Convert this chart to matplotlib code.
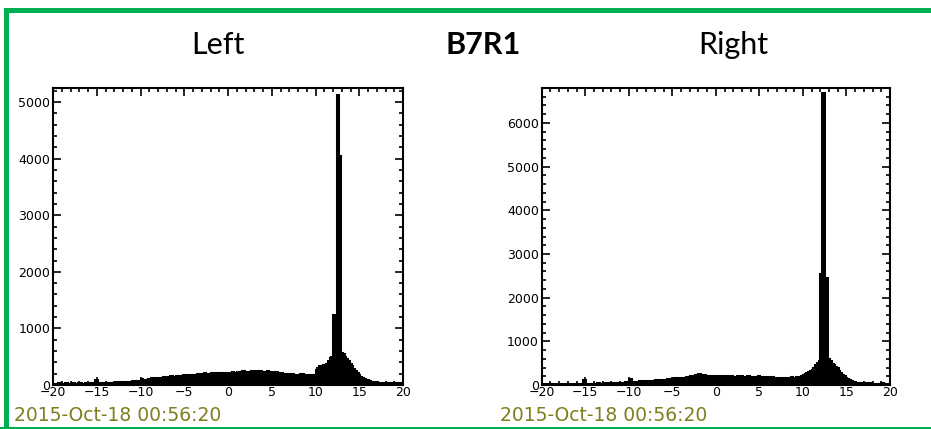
import numpy as np
import matplotlib
matplotlib.use("Agg")
import matplotlib.pyplot as plt
from matplotlib.patches import Rectangle
from matplotlib.ticker import MultipleLocator

# ---------------- data ----------------
bin_start = -20.0
bin_width = 0.2

left_counts = [
    20, 25, 20, 30, 25, 20, 25, 30, 20, 25,
    25, 30, 20, 25, 30, 35, 25, 20, 30, 25,
    30, 25, 35, 30, 90, 25, 30, 35, 30, 25,
    30, 35, 40, 30, 35, 40, 45, 40, 35, 45,
    50, 45, 55, 60, 55, 65, 70, 60, 75, 70,
    110, 80, 85, 90, 100, 95, 130, 105, 110, 120,
    115, 130, 125, 140, 135, 150, 140, 155, 150, 145,
    160, 150, 165, 155, 170, 160, 175, 165, 180, 170,
    185, 175, 190, 200, 185, 195, 205, 190, 200, 195,
    210, 195, 205, 190, 215, 200, 210, 220, 205, 215,
    200, 215, 225, 210, 220, 230, 215, 225, 240, 220,
    230, 215, 225, 245, 220, 235, 250, 225, 240, 230,
    235, 220, 245, 225, 215, 230, 210, 225, 200, 215,
    205, 195, 200, 185, 190, 180, 195, 175, 185, 170,
    180, 200, 190, 175, 185, 165, 170, 175, 160, 180,
    260, 300, 330, 310, 350, 340, 380, 420, 480, 500,
    1230, 1230, 5130, 4050, 560, 540, 500, 460, 420, 380,
    330, 290, 250, 210, 180, 150, 120, 100, 90, 80,
    70, 60, 55, 50, 45, 40, 35, 40, 30, 35,
    30, 25, 30, 35, 25, 30, 25, 30, 25, 30,
]

right_counts = [
    20, 25, 20, 25, 30, 20, 25, 20, 25, 30,
    25, 20, 30, 25, 20, 25, 30, 25, 20, 25,
    25, 30, 20, 25, 115, 30, 25, 20, 25, 30,
    25, 30, 35, 30, 25, 35, 30, 40, 35, 30,
    40, 35, 45, 40, 50, 45, 55, 50, 60, 65,
    130, 70, 75, 70, 80, 75, 85, 80, 75, 85,
    90, 85, 95, 100, 90, 105, 100, 110, 105, 115,
    120, 115, 130, 125, 140, 135, 150, 140, 145, 155,
    160, 170, 165, 180, 190, 200, 210, 205, 220, 235,
    245, 230, 240, 225, 210, 200, 190, 185, 195, 190,
    200, 190, 210, 195, 185, 200, 190, 205, 195, 180,
    190, 185, 200, 210, 195, 180, 190, 185, 200, 175,
    180, 190, 175, 185, 195, 180, 170, 185, 175, 180,
    175, 170, 180, 165, 170, 160, 155, 165, 150, 160,
    150, 165, 160, 175, 155, 170, 180, 175, 190, 200,
    230, 250, 270, 300, 320, 350, 400, 450, 500, 540,
    2550, 6690, 2450, 2450, 600, 560, 480, 450, 420, 380,
    330, 280, 240, 200, 170, 140, 110, 90, 75, 60,
    50, 45, 40, 40, 35, 40, 35, 30, 35, 30,
    30, 25, 30, 25, 30, 35, 25, 30, 25, 30,
]

panel_titles = ["Left", "B7R1", "Right"]
timestamp = "2015-Oct-18 00:56:20"
x_range = (-20, 20)
left_ylim = (0, 5250)
right_ylim = (0, 6800)

# ---------------- figure ----------------
W, H = 931, 429
fig = plt.figure(figsize=(W / 100, H / 100), dpi=100)
fig.patch.set_facecolor("white")

def fx(px):
    return px / W

def fy(py):
    return 1 - py / H

green = "#00B050"
# slide border
fig.add_artist(Rectangle((fx(4), fy(13)), fx(W), 5 / H, transform=fig.transFigure,
                         facecolor=green, edgecolor="none"))
fig.add_artist(Rectangle((fx(4), 0), 5 / W, fy(8), transform=fig.transFigure,
                         facecolor=green, edgecolor="none"))
fig.add_artist(Rectangle((0, fy(428.5)), 1, 1.6 / H, transform=fig.transFigure,
                         facecolor=green, edgecolor="none"))

title_font = ["Lato", "DejaVu Sans"]
fig.text(fx(218), fy(45), panel_titles[0], ha="center", va="center",
         fontsize=22, family=title_font)
fig.text(fx(483), fy(45), panel_titles[1], ha="center", va="center",
         fontsize=22, family=title_font, fontweight="bold")
fig.text(fx(733), fy(45), panel_titles[2], ha="center", va="center",
         fontsize=22, family=title_font)

edges = bin_start + bin_width * np.arange(len(left_counts) + 1)
centers = edges[:-1] + bin_width / 2


def draw_panel(rect_px, counts, ylim, date_x):
    x0, y0, x1, y1 = rect_px
    ax = fig.add_axes([fx(x0), fy(y1), fx(x1 - x0), (y1 - y0) / H])
    ax.bar(centers, counts, width=bin_width, color="black", edgecolor="black",
           linewidth=0.8, align="center")
    ax.stairs(counts, edges, color="black", linewidth=2.2)
    ax.set_xlim(*x_range)
    ax.set_ylim(*ylim)
    ax.xaxis.set_major_locator(MultipleLocator(5))
    ax.xaxis.set_minor_locator(MultipleLocator(1))
    ax.yaxis.set_major_locator(MultipleLocator(1000))
    ax.yaxis.set_minor_locator(MultipleLocator(200))
    ax.tick_params(which="both", direction="in", top=True, right=True,
                   width=1.2, labelsize=9, colors="black")
    ax.tick_params(axis="x", pad=1)
    ax.tick_params(axis="y", pad=2)
    ax.tick_params(which="major", length=6)
    ax.tick_params(which="minor", length=3)
    for sp in ax.spines.values():
        sp.set_linewidth(1.5)
    fig.text(fx(date_x), fy(421), timestamp, ha="left", va="baseline",
             fontsize=13.5, color="#7F7F20")
    return ax

draw_panel((53, 88, 403, 385), left_counts, left_ylim, 14)
draw_panel((541.7, 88, 890, 385), right_counts, right_ylim, 500)

fig.savefig("out.png", dpi=100)
